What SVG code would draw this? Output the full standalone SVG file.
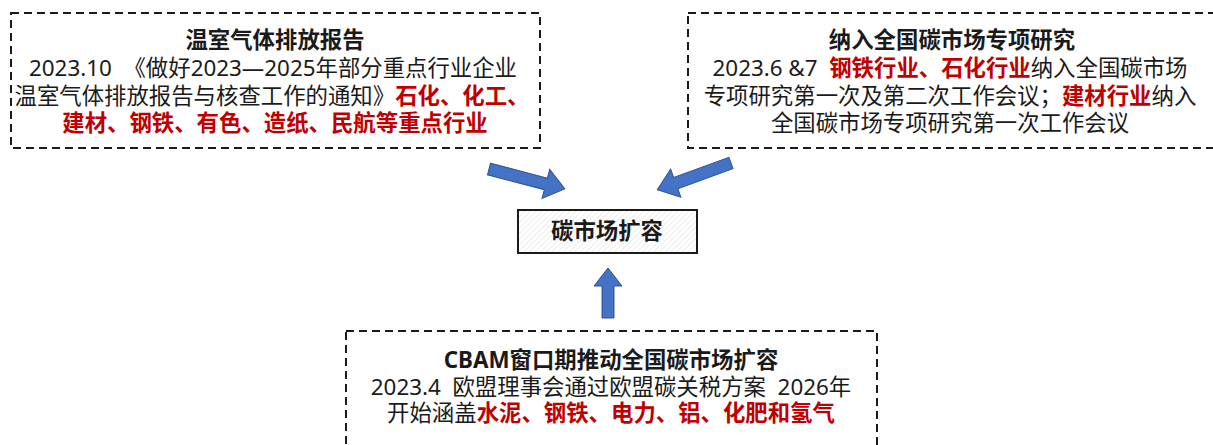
<svg xmlns="http://www.w3.org/2000/svg" width="1213" height="445" viewBox="0 0 1213 445">
<style>
.box{fill:none;stroke:#1a1a1a;stroke-width:2;stroke-dasharray:8 5}
text{font-family:"Noto Sans","Noto Sans CJK SC",sans-serif;font-size:22.4px;fill:#1a1a1a;text-anchor:middle;white-space:pre}
.t{font-weight:bold}
.r{fill:#C00000;font-weight:bold}
.arrow{fill:#4472C4;stroke:#2F528F;stroke-width:1}
</style>
<defs>
<pattern id="hatch" width="4" height="4" patternUnits="userSpaceOnUse" patternTransform="rotate(45)">
<rect width="4" height="4" fill="#ffffff"/>
<line x1="0" y1="0" x2="0" y2="4" stroke="#d9d9d9" stroke-width="1"/>
</pattern>
<polygon id="arr" points="0,-6 60,-6 60,-15 80,0 60,15 60,6 0,6"/>
</defs>
<rect width="1213" height="445" fill="#ffffff"/>

<g id="node-ghg">
<rect class="box" x="11" y="13" width="529" height="135"/>
<text class="t" x="275" y="48">温室气体排放报告</text>
<text x="273" y="76">2023.10  《做好2023—2025年部分重点行业企业</text>
<text x="272" y="104">温室气体排放报告与核查工作的通知》<tspan class="r">石化、化工、</tspan></text>
<text class="r" x="275" y="131">建材、钢铁、有色、造纸、民航等重点行业</text>
</g>

<g id="node-research">
<rect class="box" x="688" y="13" width="540" height="135"/>
<text class="t" x="952" y="48">纳入全国碳市场专项研究</text>
<text x="950" y="76">2023.6 &amp;7  <tspan class="r">钢铁行业、石化行业</tspan>纳入全国碳市场</text>
<text x="950" y="104">专项研究第一次及第二次工作会议；<tspan class="r">建材行业</tspan>纳入</text>
<text x="950" y="131">全国碳市场专项研究第一次工作会议</text>
</g>

<g id="node-center">
<rect x="518" y="210" width="179" height="43" fill="url(#hatch)" stroke="#1a1a1a" stroke-width="2"/>
<text class="t" x="607" y="239">碳市场扩容</text>
</g>

<g id="node-cbam">
<rect class="box" x="346" y="331" width="531" height="130"/>
<text class="t" x="611" y="368">CBAM窗口期推动全国碳市场扩容</text>
<text x="611" y="395">2023.4  欧盟理事会通过欧盟碳关税方案  2026年</text>
<text x="611" y="421">开始涵盖<tspan class="r">水泥、钢铁、电力、铝、化肥和氢气</tspan></text>
</g>

<g id="connectors">
<use href="#arr" class="arrow" transform="translate(489,169) rotate(14.7) scale(0.98,1)"/>
<use href="#arr" class="arrow" transform="translate(731,163) rotate(160) scale(0.98,1)"/>
<polygon class="arrow" points="602,318 602,286 594,286 608,268 622,286 614,286 614,318"/>
</g>
</svg>
